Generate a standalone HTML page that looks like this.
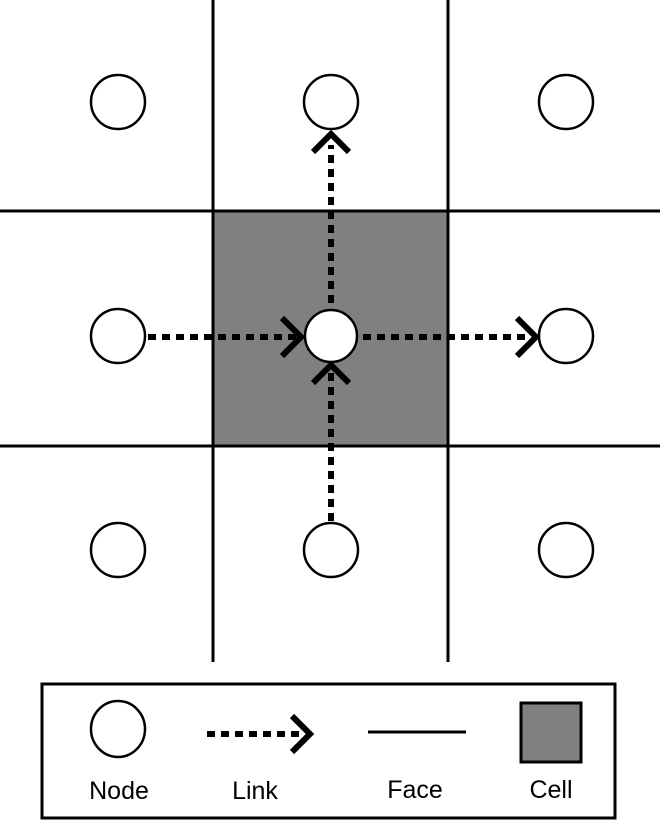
<!DOCTYPE html>
<html><head><meta charset="utf-8"><style>
html,body{margin:0;padding:0;background:#fff;width:660px;height:821px;overflow:hidden}
svg{display:block}
text{font-family:"Liberation Sans","DejaVu Sans",sans-serif;font-size:25px;fill:#000}
</style></head><body>
<svg width="660" height="821" viewBox="0 0 660 821" xmlns="http://www.w3.org/2000/svg">
<rect x="213" y="211" width="235" height="235" fill="#808080"/>
<g stroke="#000" stroke-width="3">
<line x1="213" y1="0" x2="213" y2="662"/>
<line x1="448" y1="0" x2="448" y2="662"/>
<line x1="0" y1="211" x2="660" y2="211"/>
<line x1="0" y1="446" x2="660" y2="446"/>
</g>
<g fill="#fff" stroke="#000" stroke-width="2.5">
<circle cx="118" cy="102" r="27"/><circle cx="331" cy="102" r="27"/><circle cx="566" cy="102" r="27"/>
<circle cx="118" cy="336" r="27"/><circle cx="331" cy="336" r="26"/><circle cx="566" cy="336" r="27"/>
<circle cx="118" cy="550" r="27"/><circle cx="331" cy="550" r="27"/><circle cx="566" cy="550" r="27"/>
</g>
<g stroke="#000" stroke-width="6" fill="none" stroke-dasharray="8 6">
<line x1="148" y1="337" x2="296" y2="337"/>
<line x1="363" y1="337" x2="528" y2="337"/>
<line x1="331" y1="303" x2="331" y2="145"/>
<line x1="331" y1="521" x2="331" y2="372"/>
<line x1="207" y1="734" x2="303" y2="734"/>
</g>
<g stroke="#000" stroke-width="6" fill="none">
<polyline points="282,318 301,337 282,356"/>
<polyline points="517,318 536,337 517,356"/>
<polyline points="313,152 331,134 349,152"/>
<polyline points="313,383 331,365 349,383"/>
<polyline points="292,716 310,734 292,752"/>
</g>
<rect x="42" y="684" width="573" height="134" fill="none" stroke="#000" stroke-width="3"/>
<ellipse cx="118" cy="729" rx="27" ry="28" fill="#fff" stroke="#000" stroke-width="2.5"/>
<line x1="368" y1="732" x2="466" y2="732" stroke="#000" stroke-width="3"/>
<rect x="521" y="703" width="60" height="59" fill="#808080" stroke="#000" stroke-width="3"/>
<text x="119" y="799" text-anchor="middle">Node</text>
<text x="255" y="799" text-anchor="middle">Link</text>
<text x="415" y="798" text-anchor="middle">Face</text>
<text x="551" y="798" text-anchor="middle">Cell</text>
</svg>
</body></html>
